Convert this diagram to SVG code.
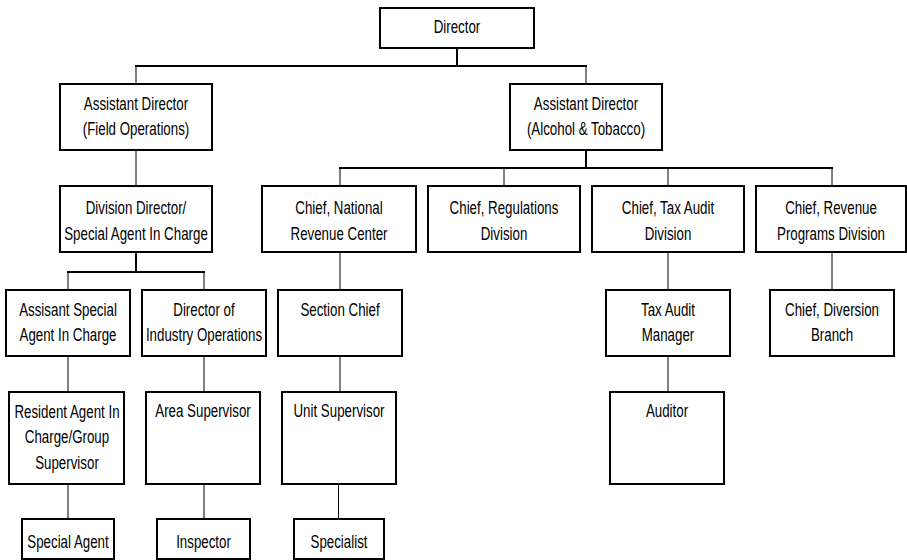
<svg xmlns="http://www.w3.org/2000/svg" width="907" height="560" viewBox="0 0 907 560">
<style>
rect.b{fill:#fff;stroke:#000;stroke-width:2}
text{font-family:"Liberation Sans",Arial,sans-serif;font-size:18.5px;fill:#000;text-anchor:middle}
.thin{stroke:#000;stroke-width:1;fill:none}
.thick{stroke:#000;stroke-width:2;fill:none;stroke-linecap:square}
</style>
<rect width="907" height="560" fill="#fff"/>
<g id="connectors">
<line class="thick" x1="457" y1="48" x2="457" y2="66"/>
<line class="thick" x1="136" y1="66" x2="586" y2="66"/>
<line class="thin" x1="136" y1="66" x2="136" y2="84"/>
<line class="thin" x1="586" y1="66" x2="586" y2="84"/>
<line class="thin" x1="136" y1="150" x2="136" y2="186"/>
<line class="thick" x1="586" y1="150" x2="586" y2="168"/>
<line class="thick" x1="340" y1="168" x2="832" y2="168"/>
<line class="thin" x1="340" y1="168" x2="340" y2="186"/>
<line class="thin" x1="504" y1="168" x2="504" y2="186"/>
<line class="thin" x1="668" y1="168" x2="668" y2="186"/>
<line class="thin" x1="832" y1="168" x2="832" y2="186"/>
<line class="thick" x1="136" y1="252" x2="136" y2="272"/>
<line class="thick" x1="68" y1="272" x2="204" y2="272"/>
<line class="thin" x1="68" y1="272" x2="68" y2="290"/>
<line class="thin" x1="204" y1="272" x2="204" y2="290"/>
<line class="thin" x1="68" y1="356" x2="68" y2="392"/>
<line class="thin" x1="68" y1="484" x2="68" y2="519"/>
<line class="thin" x1="204" y1="356" x2="204" y2="392"/>
<line class="thin" x1="204" y1="484" x2="204" y2="519"/>
<line class="thin" x1="340" y1="252" x2="340" y2="290"/>
<line class="thin" x1="340" y1="356" x2="340" y2="392"/>
<line class="thin" x1="338.5" y1="484" x2="338.5" y2="519"/>
<line class="thin" x1="668" y1="252" x2="668" y2="290"/>
<line class="thin" x1="668" y1="356" x2="668" y2="392"/>
<line class="thin" x1="832" y1="252" x2="832" y2="290"/>
</g>
<g id="director">
<rect class="b" x="380" y="8" width="154" height="40"/>
<text transform="translate(457 0) scale(0.72 1)"><tspan x="0" y="33.5">Director</tspan></text>
</g>
<g id="ad-field">
<rect class="b" x="60" y="84" width="152" height="66"/>
<text transform="translate(136 0) scale(0.72 1)"><tspan x="0" y="110.5">Assistant Director</tspan><tspan x="0" y="135.5">(Field Operations)</tspan></text>
</g>
<g id="ad-alcohol">
<rect class="b" x="510" y="84" width="152" height="66"/>
<text transform="translate(586 0) scale(0.72 1)"><tspan x="0" y="110.5">Assistant Director</tspan><tspan x="0" y="135.5">(Alcohol &amp; Tobacco)</tspan></text>
</g>
<g id="division-director">
<rect class="b" x="60" y="186" width="152" height="66"/>
<text transform="translate(136 0) scale(0.72 1)"><tspan x="0" y="214.5">Division Director/</tspan><tspan x="0" y="240">Special Agent In Charge</tspan></text>
</g>
<g id="chief-nrc">
<rect class="b" x="262" y="186" width="154" height="66"/>
<text transform="translate(339 0) scale(0.72 1)"><tspan x="0" y="214.5">Chief, National</tspan><tspan x="0" y="240">Revenue Center</tspan></text>
</g>
<g id="chief-regulations">
<rect class="b" x="428" y="186" width="152" height="66"/>
<text transform="translate(504 0) scale(0.72 1)"><tspan x="0" y="214.5">Chief, Regulations</tspan><tspan x="0" y="240">Division</tspan></text>
</g>
<g id="chief-tax-audit">
<rect class="b" x="592" y="186" width="152" height="66"/>
<text transform="translate(668 0) scale(0.72 1)"><tspan x="0" y="214.5">Chief, Tax Audit</tspan><tspan x="0" y="240">Division</tspan></text>
</g>
<g id="chief-revenue">
<rect class="b" x="756" y="186" width="150" height="66"/>
<text transform="translate(831 0) scale(0.72 1)"><tspan x="0" y="214.5">Chief, Revenue</tspan><tspan x="0" y="240">Programs Division</tspan></text>
</g>
<g id="asac">
<rect class="b" x="6" y="290" width="124" height="66"/>
<text transform="translate(68 0) scale(0.72 1)"><tspan x="0" y="316.5">Assisant Special</tspan><tspan x="0" y="341.5">Agent In Charge</tspan></text>
</g>
<g id="dio">
<rect class="b" x="142" y="290" width="124" height="66"/>
<text transform="translate(204 0) scale(0.72 1)"><tspan x="0" y="316.5">Director of</tspan><tspan x="0" y="341.5">Industry Operations</tspan></text>
</g>
<g id="section-chief">
<rect class="b" x="278" y="290" width="124" height="66"/>
<text transform="translate(340 0) scale(0.72 1)"><tspan x="0" y="316.5">Section Chief</tspan></text>
</g>
<g id="tax-audit-manager">
<rect class="b" x="606" y="290" width="124" height="66"/>
<text transform="translate(668 0) scale(0.72 1)"><tspan x="0" y="316.5">Tax Audit</tspan><tspan x="0" y="341.5">Manager</tspan></text>
</g>
<g id="chief-diversion">
<rect class="b" x="770" y="290" width="124" height="66"/>
<text transform="translate(832 0) scale(0.72 1)"><tspan x="0" y="316.5">Chief, Diversion</tspan><tspan x="0" y="341.5">Branch</tspan></text>
</g>
<g id="resident-agent">
<rect class="b" x="9" y="392" width="115" height="92"/>
<text transform="translate(67 0) scale(0.72 1)"><tspan x="0" y="418">Resident Agent In</tspan><tspan x="0" y="443.5">Charge/Group</tspan><tspan x="0" y="469">Supervisor</tspan></text>
</g>
<g id="area-supervisor">
<rect class="b" x="146" y="392" width="114" height="92"/>
<text transform="translate(203 0) scale(0.72 1)"><tspan x="0" y="417">Area Supervisor</tspan></text>
</g>
<g id="unit-supervisor">
<rect class="b" x="282" y="392" width="114" height="92"/>
<text transform="translate(339 0) scale(0.72 1)"><tspan x="0" y="417">Unit Supervisor</tspan></text>
</g>
<g id="auditor">
<rect class="b" x="610" y="392" width="114" height="92"/>
<text transform="translate(667 0) scale(0.72 1)"><tspan x="0" y="417">Auditor</tspan></text>
</g>
<g id="special-agent">
<rect class="b" x="22" y="519" width="92" height="40"/>
<text transform="translate(68 0) scale(0.72 1)"><tspan x="0" y="548">Special Agent</tspan></text>
</g>
<g id="inspector">
<rect class="b" x="157" y="519" width="93" height="40"/>
<text transform="translate(203.5 0) scale(0.72 1)"><tspan x="0" y="548">Inspector</tspan></text>
</g>
<g id="specialist">
<rect class="b" x="294" y="519" width="90" height="40"/>
<text transform="translate(339 0) scale(0.72 1)"><tspan x="0" y="548">Specialist</tspan></text>
</g>
</svg>
